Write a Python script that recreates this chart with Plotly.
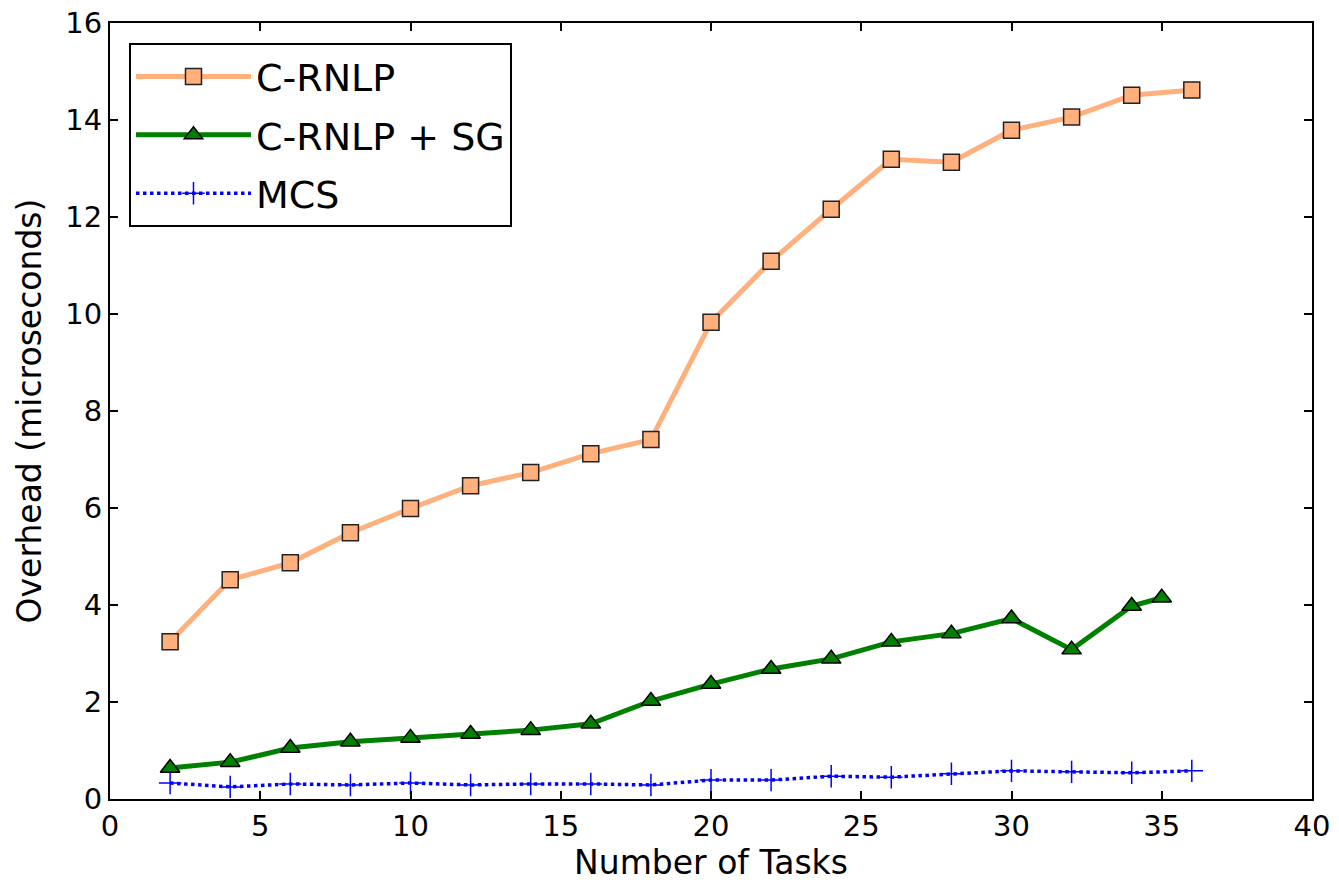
import plotly.graph_objects as go

tasks = [2, 4, 6, 8, 10, 12, 14, 16, 18, 20, 22, 24, 26, 28, 30, 32, 34, 36]
crnlp = [3.24, 4.52, 4.87, 5.49, 5.99, 6.46, 6.73, 7.12, 7.41, 9.83, 11.09, 12.16,
         13.19, 13.13, 13.79, 14.06, 14.51, 14.62]
tasks_sg = [2, 4, 6, 8, 10, 12, 14, 16, 18, 20, 22, 24, 26, 28, 30, 32, 34, 35]
crnlp_sg = [0.64, 0.76, 1.05, 1.18, 1.26, 1.34, 1.42, 1.55, 2.02, 2.37, 2.68, 2.89,
            3.24, 3.41, 3.72, 3.08, 3.98, 4.15]
mcs = [0.33, 0.25, 0.31, 0.29, 0.33, 0.29, 0.31, 0.31, 0.29, 0.39, 0.39, 0.47,
       0.45, 0.52, 0.58, 0.56, 0.54, 0.58]

FONT = "DejaVu Sans"

fig = go.Figure()
fig.add_trace(go.Scatter(
    x=tasks, y=crnlp, name="C-RNLP", mode="lines+markers", legendgroup="a",
    line=dict(color="#ffb07c", width=5),
    marker=dict(symbol="square", size=16, color="#ffb07c",
                line=dict(color="#222222", width=1.5)),
))
fig.add_trace(go.Scatter(
    x=tasks_sg, y=crnlp_sg, name="C-RNLP + SG", mode="lines+markers", legendgroup="b",
    line=dict(color="#008000", width=5),
    marker=dict(symbol="triangle-up", size=17, color="#008000",
                line=dict(color="#000000", width=1.5)),
))
fig.add_trace(go.Scatter(
    x=tasks, y=mcs, name="MCS", mode="lines+markers", legendgroup="c",
    line=dict(color="#0000ff", width=3.5, dash="dot"),
    marker=dict(symbol="cross-thin-open", size=16, color="#0000ff",
                line=dict(color="#0000ff", width=1.5)),
))

axis_common = dict(
    showline=True, linecolor="black", linewidth=2, mirror="ticks",
    ticks="inside", ticklen=8, tickwidth=1.5, tickcolor="black",
    showgrid=False, zeroline=False, automargin=False,
    tickfont=dict(family=FONT, size=29, color="black"),
)

fig.update_layout(
    width=1339, height=886,
    margin=dict(l=110, r=27, t=23, b=87),
    plot_bgcolor="white", paper_bgcolor="white",
    font=dict(family=FONT, color="black"),
    xaxis=dict(range=[0, 40], dtick=5, tick0=0,
               title=dict(text="Number of Tasks", font=dict(family=FONT, size=33), standoff=6),
               **axis_common),
    yaxis=dict(range=[0, 16], dtick=2, tick0=0,
               title=dict(text="Overhead (microseconds)", font=dict(family=FONT, size=33), standoff=14),
               **axis_common),
    legend=dict(x=0.0158, y=0.974, xanchor="left", yanchor="top",
                bordercolor="black", borderwidth=2, bgcolor="white",
                font=dict(family=FONT, size=38, color="black"),
                itemwidth=115, tracegroupgap=6,
                entrywidth=385, entrywidthmode="pixels"),
)

fig.write_html("out.html")
